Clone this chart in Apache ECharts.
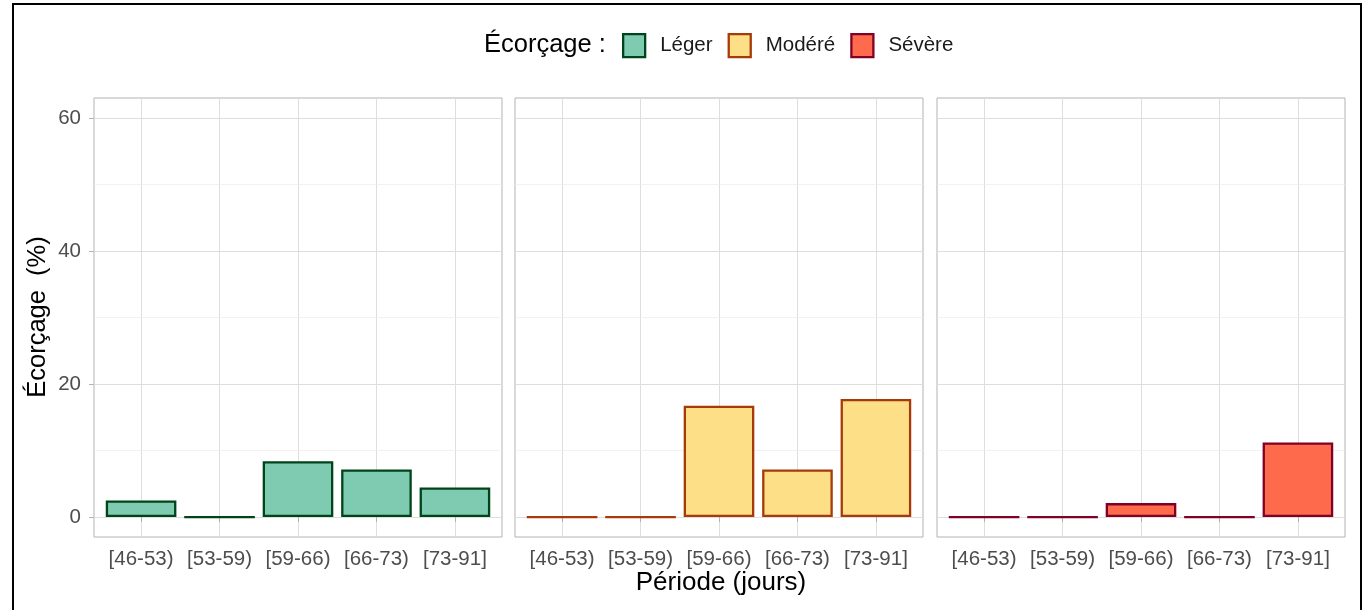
<!DOCTYPE html>
<html><head><meta charset="utf-8">
<script src="https://cdn.jsdelivr.net/npm/echarts@6/dist/echarts.min.js"></script>
<style>html,body{margin:0;padding:0;background:#fff}#c{width:1370px;height:610px}</style>
</head><body><div id="c"></div>
<script>
const categories = ['[46-53)', '[53-59)', '[59-66)', '[66-73)', '[73-91]'];
const legerValues = [2.5, 0, 8.4, 7.15, 4.45];
const modereValues = [0, 0, 16.75, 7.15, 17.75];
const severeValues = [0, 0, 2.1, 0, 11.2];
const seriesNames = ['Léger', 'Modéré', 'Sévère'];
const yTickValues = [0, 20, 40, 60];
const yMinorValues = [10, 30, 50];
const xTickValues = [1, 2, 3, 4, 5];

const FONT = "'Liberation Sans', Arial, sans-serif";
const fillsSolid = ['#7ecbb1', '#fddf88', '#fe6a4c'];
const strokes = ['#00441b', '#a63a08', '#800026'];
const allValues = [legerValues, modereValues, severeValues];

const gridLefts = [94, 515, 937];
const gridWidth = 408;
const gridTop = 98, gridHeight = 439;
const barW = gridWidth * 0.9 / 5.2;

const chart = echarts.init(document.getElementById('c'), null, {renderer: 'canvas'});

const grids = [], xAxes = [], yAxes = [], series = [];
for (let i = 0; i < 3; i++) {
  grids.push({left: gridLefts[i], top: gridTop, width: gridWidth, height: gridHeight,
    show: true, borderColor: '#b3b3b3', borderWidth: 1, backgroundColor: 'transparent', containLabel: false});
  xAxes.push({type: 'value', gridIndex: i, min: 0.4, max: 5.6,
    axisLine: {show: false},
    axisTick: {show: true, customValues: xTickValues, length: 5, lineStyle: {color: '#b3b3b3'}},
    axisLabel: {show: true, customValues: xTickValues, margin: 12, color: '#4d4d4d', fontSize: 20.5, fontFamily: FONT,
      formatter: v => categories[Math.round(v) - 1] || ''},
    splitLine: {show: true, lineStyle: {color: '#dedede', width: 1}}
  });
  yAxes.push({type: 'value', gridIndex: i, min: -3, max: 63,
    axisLine: {show: false},
    axisTick: {show: i === 0, customValues: yTickValues, length: 5, lineStyle: {color: '#b3b3b3'}},
    axisLabel: {show: i === 0, customValues: yTickValues, margin: 13, color: '#4d4d4d', fontSize: 20.5, fontFamily: FONT},
    splitLine: {show: true, lineStyle: {color: '#dedede', width: 1}}
  });
  series.push({type: 'bar', name: seriesNames[i], xAxisIndex: i, yAxisIndex: i,
    data: allValues[i].map((v, k) => [k + 1, v]),
    barWidth: barW,
    itemStyle: {color: fillsSolid[i], borderColor: strokes[i], borderWidth: 2.3},
    z: 3,
    markLine: {silent: true, symbol: ['none', 'none'], z: 1, label: {show: false},
      lineStyle: {color: '#ececec', width: 0.7, type: 'solid'},
      emphasis: {disabled: true},
      data: yMinorValues.map(v => ({yAxis: v}))}
  });
}

chart.setOption({
  animation: false,
  backgroundColor: '#ffffff',
  grid: grids, xAxis: xAxes, yAxis: yAxes, series: series,
  legend: {
    left: 622, top: 33, padding: 0, itemWidth: 22, itemHeight: 23, itemGap: 15, icon: 'rect',
    selectedMode: false,
    textStyle: {fontSize: 20.5, color: '#1a1a1a', fontFamily: FONT, padding: [0, 0, 0, 10]},
    data: seriesNames.map((n, i) => ({name: n, itemStyle: {color: fillsSolid[i], borderColor: strokes[i], borderWidth: 2.3}}))
  },
  graphic: [
    {type: 'rect', shape: {x: 13, y: 4, width: 1348, height: 700}, style: {fill: 'none', stroke: '#000', lineWidth: 2}, silent: true, z: 10},
    {type: 'text', x: 484, y: 45, style: {text: 'Écorçage :', font: "25.5px 'Liberation Sans', Arial, sans-serif", fill: '#000', textAlign: 'left', textVerticalAlign: 'middle'}},
    {type: 'text', x: 721, y: 583, style: {text: 'Période (jours)', font: "26px 'Liberation Sans', Arial, sans-serif", fill: '#000', textAlign: 'center', textVerticalAlign: 'middle'}},
    {type: 'text', x: 38, y: 317, rotation: Math.PI / 2, style: {text: 'Écorçage  (%)', font: "25.5px 'Liberation Sans', Arial, sans-serif", fill: '#000', textAlign: 'center', textVerticalAlign: 'middle'}}
  ]
});
</script></body></html>
